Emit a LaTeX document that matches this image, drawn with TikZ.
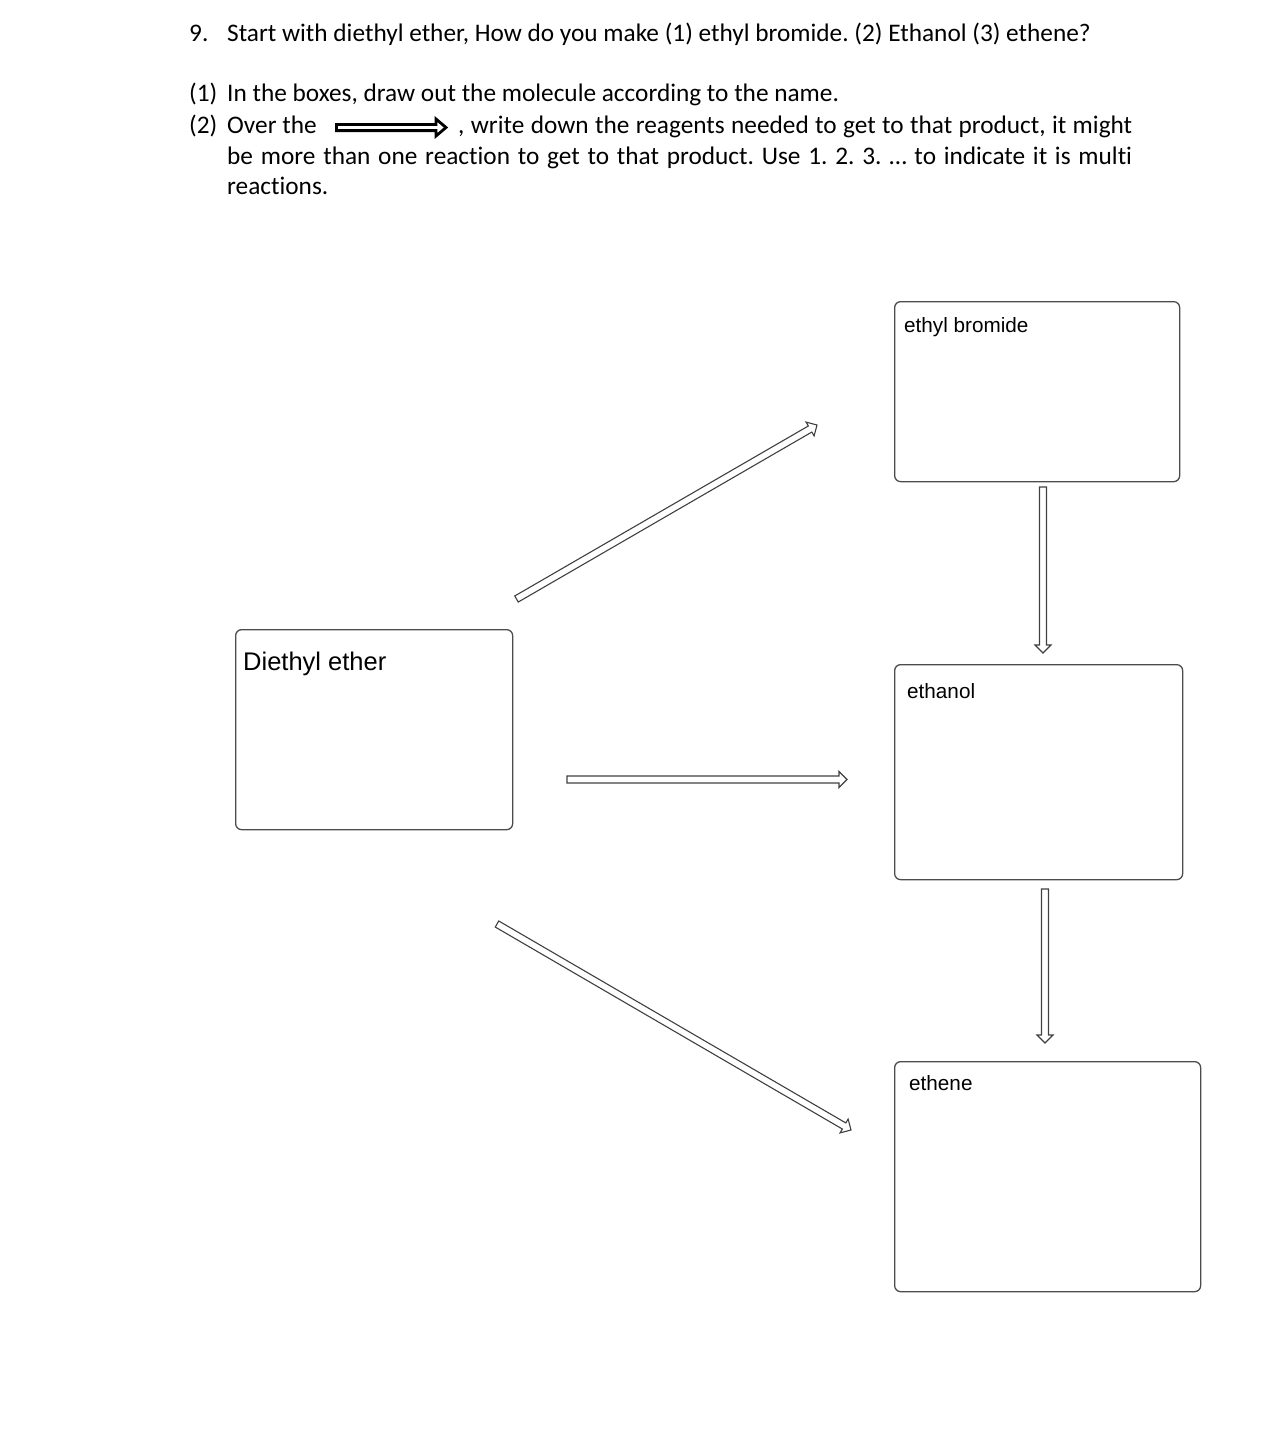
\documentclass[tikz,border=0pt]{standalone}
\usepackage{fontspec}
\setmainfont{Carlito}[Ligatures=NoCommon]
\newfontfamily\arialfont{Liberation Sans}
\usetikzlibrary{calc}
\frenchspacing

% hollow block arrow from #2 to #3
\def\hashaft{3.5pt}
\def\hahead{8pt}
\def\halen{8pt}
\newcommand{\hollowarrow}[3][]{%
  \coordinate (ha-n) at ($(#3)!\halen!(#2)$);
  \draw[#1] ($(#2)!\hashaft!90:(#3)$) -- ($(ha-n)!\hashaft!90:(#3)$)
    -- ($(ha-n)!\hahead!90:(#3)$) -- (#3) -- ($(ha-n)!\hahead!-90:(#3)$)
    -- ($(ha-n)!\hashaft!-90:(#3)$) -- ($(#2)!\hashaft!-90:(#3)$) -- cycle;}

\tikzset{
  qtext/.style={inner sep=0pt,anchor=base west,font=\fontsize{25.3}{30}\selectfont},
  molbox/.style={draw=black!70,line width=1.3pt,rounded corners=6pt,anchor=north west,inner sep=0pt},
  boxlabel/.style={inner sep=0pt,anchor=base west,font=\arialfont\fontsize{20.7}{24}\selectfont},
  reagent/.style={draw=black!75,line width=1.1pt,line join=miter},
}

\begin{document}
\begin{tikzpicture}[x=1pt,y=-1pt]
\useasboundingbox (0,0) rectangle (1284,1451);
% question text
\node[qtext] (q9) at (189,41) {9.};
\node[qtext] (q9t) at (227,41) {Start with diethyl ether, How do you make (1) ethyl bromide. (2) Ethanol (3) ethene?};
\node[qtext] (p1) at (189,101.5) {(1)};
\node[qtext] (p1t) at (227,101.5) {In the boxes, draw out the molecule according to the name.};
\node[qtext] (p2) at (189,133) {(2)};
\node[qtext] (p2a) at (227,133) {Over the};
\node[qtext] (p2b) at (458,133) {\makebox[674pt][s]{, write down the reagents needed to get to that product, it might}};
\node[qtext] (p2c) at (227,164) {\makebox[905pt][s]{be more than one reaction to get to that product. Use 1. 2. 3. … to indicate it is multi}};
\node[qtext] (p2d) at (227,194) {reactions.};
\coordinate (txt-s) at (336.5,127.5);
\coordinate (txt-e) at (446,127.5);
{\def\hashaft{3.1pt}\def\hahead{8.5pt}\def\halen{10pt}
 \hollowarrow[draw=black,line width=2.8pt,line join=miter]{txt-s}{txt-e}}

% boxes
\node[molbox,minimum width=277pt,minimum height=200pt] (ether) at (235,629) {};
\node[molbox,minimum width=285pt,minimum height=180pt] (etbr) at (894,301) {};
\node[molbox,minimum width=288pt,minimum height=215pt] (etoh) at (894,664) {};
\node[molbox,minimum width=306pt,minimum height=230pt] (ethene) at (894,1061) {};
\node[boxlabel,font=\arialfont\fontsize{25.5}{30}\selectfont] (ether-l) at (243,670) {Diethyl ether};
\node[boxlabel] (etbr-l) at (904,332) {ethyl bromide};
\node[boxlabel] (etoh-l) at (907,698) {ethanol};
\node[boxlabel] (ethene-l) at (909,1090) {ethene};

% reaction arrows
\coordinate (up-s) at (516.5,599);
\coordinate (up-e) at (817,425);
\coordinate (mid-s) at (567,779.5);
\coordinate (mid-e) at (847,779.5);
\coordinate (dn-s) at (497,924);
\coordinate (dn-e) at (851,1130);
\coordinate (v1-s) at (1043,487);
\coordinate (v1-e) at (1043,653);
\coordinate (v2-s) at (1045,889);
\coordinate (v2-e) at (1045,1043);
\hollowarrow[reagent]{up-s}{up-e}
\hollowarrow[reagent]{mid-s}{mid-e}
\hollowarrow[reagent]{dn-s}{dn-e}
\hollowarrow[reagent]{v1-s}{v1-e}
\hollowarrow[reagent]{v2-s}{v2-e}
\end{tikzpicture}
\end{document}
